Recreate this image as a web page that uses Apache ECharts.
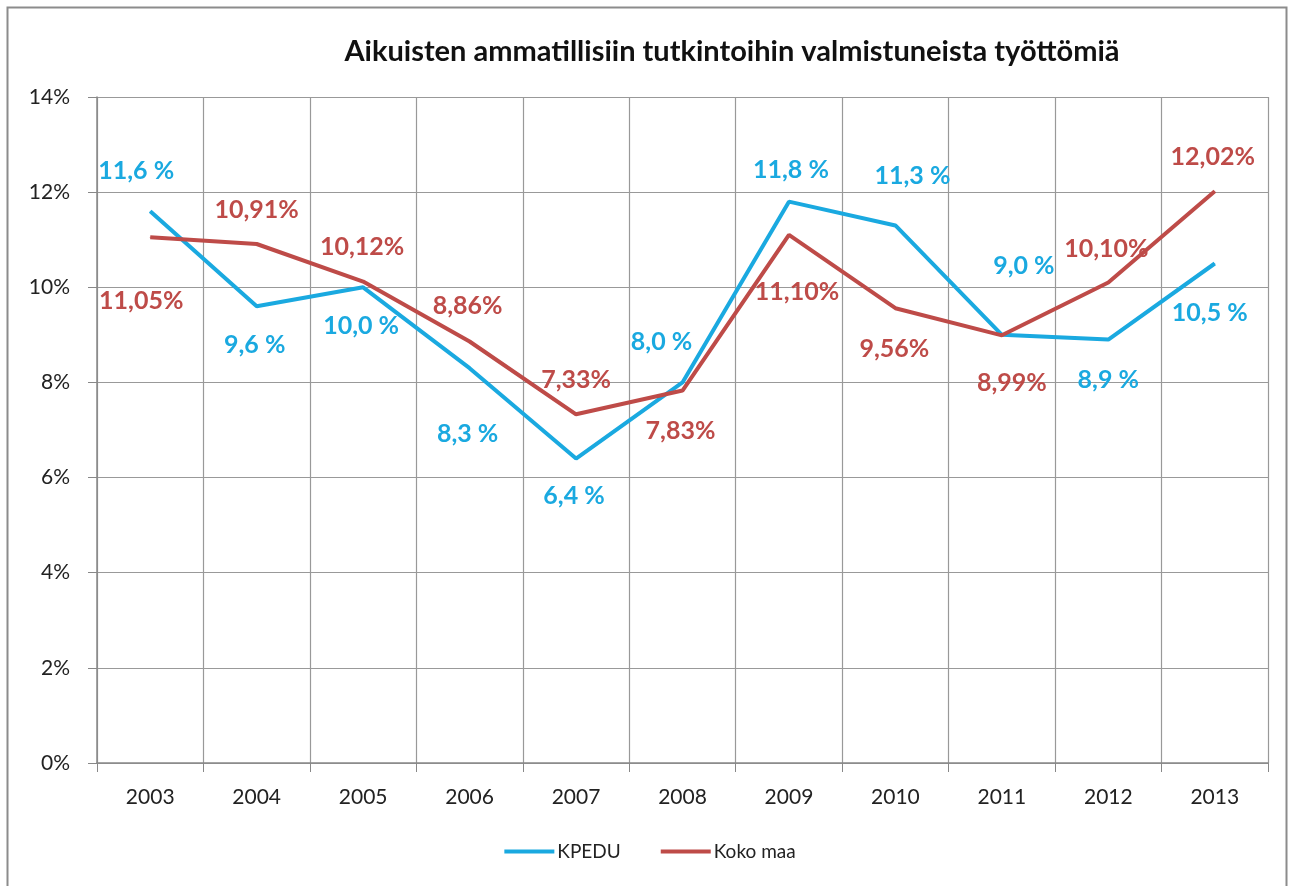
<!DOCTYPE html>
<html>
<head>
<meta charset="utf-8">
<script src="https://cdn.jsdelivr.net/npm/echarts@6/dist/echarts.min.js"></script>
<style>
html,body{margin:0;padding:0;background:#fff;}
#c{width:1300px;height:886px;}
</style>
</head>
<body>
<div id="c"></div>
<script>
const titleText = 'Aikuisten ammatillisiin tutkintoihin valmistuneista työttömiä';
const years = ['2003','2004','2005','2006','2007','2008','2009','2010','2011','2012','2013'];
const kpeduName = 'KPEDU';
const kokoName = 'Koko maa';
const kpedu = [11.6, 9.6, 10.0, 8.3, 6.4, 8.0, 11.8, 11.3, 9.0, 8.9, 10.5];
const koko = [11.05, 10.91, 10.12, 8.86, 7.33, 7.83, 11.10, 9.56, 8.99, 10.10, 12.02];

// label placement (offsets in px from each point)
const kpeduLabelOffsets = [[-14,-40],[-2,39],[-2,39],[-2,66],[-2,37],[-21,-40],[2,-32],[17,-50],[22,-69],[0,40],[-5,49]];
const kokoLabelOffsets = [[-9,64],[0,-34],[-1,-35],[-2,-36],[0,-34],[-2,40],[8,57],[-1,41],[10,48],[-2,-34],[-2,-34]];

const blue = '#1aa9e0';
const red = '#be4b48';

function buildData(vals, offs, fmt) {
  return vals.map((v, i) => ({
    value: v,
    label: { offset: offs[i], formatter: () => fmt(v) }
  }));
}

const chart = echarts.init(document.getElementById('c'));
chart.setOption({
  backgroundColor: '#fff',
  animation: false,
  graphic: [{
    type: 'rect',
    shape: { x: 7.5, y: 7.5, width: 1279, height: 900 },
    style: { fill: 'none', stroke: '#8c8c8c', lineWidth: 2 },
    silent: true
  }],
  title: {
    text: titleText,
    left: 727, top: 32, textAlign: 'center',
    textStyle: { fontFamily: 'Lato', fontWeight: 'bold', fontSize: 29, color: '#111' }
  },
  grid: { left: 97, right: 32, top: 97, bottom: 123 },
  legend: {
    bottom: 20, left: 'center',
    itemWidth: 50, itemHeight: 4, itemGap: 40,
    icon: 'rect',
    textStyle: { fontFamily: 'Lato', fontSize: 19, color: '#222', padding: [0,0,0,-2] },
    data: [kpeduName, kokoName]
  },
  xAxis: {
    type: 'category', data: years, boundaryGap: true,
    axisLine: { lineStyle: { color: '#888', width: 1.5 } },
    axisTick: { show: true, length: 9, lineStyle: { color: '#888' } },
    splitLine: { show: true, lineStyle: { color: '#999', width: 1.2 } },
    axisLabel: { fontFamily: 'Lato', fontSize: 21, color: '#222', margin: 24 }
  },
  yAxis: {
    type: 'value', min: 0, max: 14, interval: 2,
    axisLine: { show: true, lineStyle: { color: '#888', width: 1.5 } },
    axisTick: { show: true, length: 9, lineStyle: { color: '#888' } },
    splitLine: { show: true, lineStyle: { color: '#999', width: 1.2 } },
    axisLabel: { fontFamily: 'Lato', fontSize: 21, color: '#222', margin: 27, formatter: '{value}%' }
  },
  series: [
    {
      name: kpeduName, type: 'line',
      data: buildData(kpedu, kpeduLabelOffsets, v => v.toFixed(1).replace('.', ',') + ' %'),
      symbol: 'circle', symbolSize: 1,
      itemStyle: { color: blue },
      lineStyle: { color: blue, width: 4 },
      label: { show: true, position: 'inside', color: blue, fontFamily: 'Lato', fontWeight: 'bold', fontSize: 25 },
      z: 3
    },
    {
      name: kokoName, type: 'line',
      data: buildData(koko, kokoLabelOffsets, v => v.toFixed(2).replace('.', ',') + '%'),
      symbol: 'circle', symbolSize: 1,
      itemStyle: { color: red },
      lineStyle: { color: red, width: 4 },
      label: { show: true, position: 'inside', color: red, fontFamily: 'Lato', fontWeight: 'bold', fontSize: 25 },
      z: 4
    }
  ]
});
</script>
</body>
</html>
